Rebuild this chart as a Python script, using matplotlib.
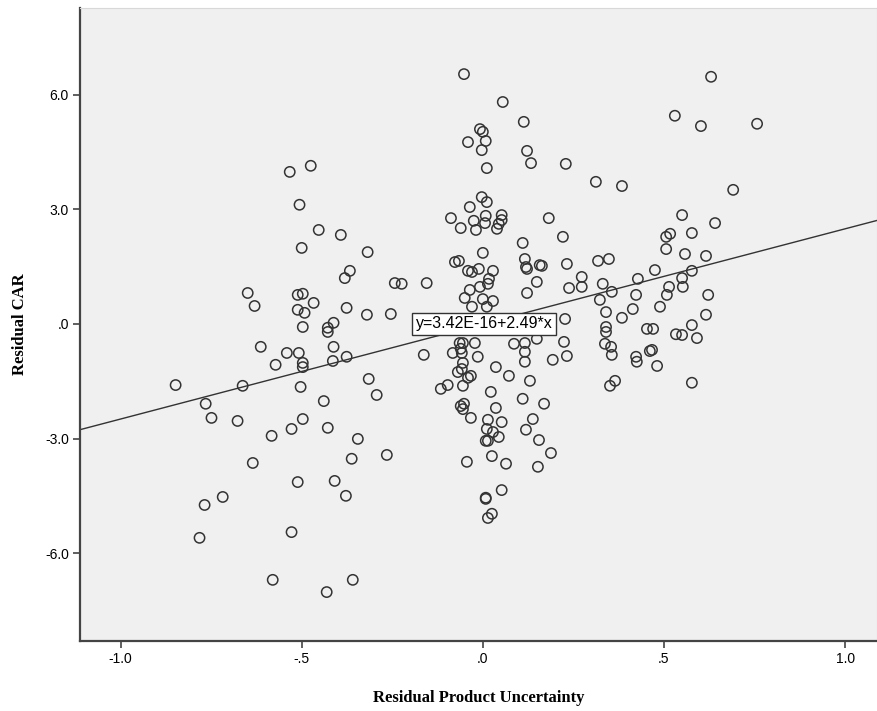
import numpy as np
import matplotlib.pyplot as plt

# residuals (x = product uncertainty, y = CAR)
resid_pu = [
    -0.533, -0.475, -0.506, -0.453, -0.500, -0.649, -0.630, -0.511, -0.497, -0.467,
    -0.511, -0.492, -0.497, -0.428, -0.428, -0.613, -0.541, -0.508, -0.572, -0.497,
    -0.497, -0.848, -0.663, -0.503, -0.765, -0.439, -0.749, -0.677, -0.497, -0.528,
    -0.428, -0.583, -0.635, -0.511, -0.718, -0.768, -0.782, -0.528, -0.580, -0.431,
    -0.392, -0.318, -0.367, -0.381, -0.243, -0.224, -0.155, -0.088, -0.376, -0.320,
    -0.254, -0.412, -0.412, -0.376, -0.414, -0.163, -0.315, -0.293, -0.116, -0.097,
    -0.345, -0.362, -0.265, -0.409, -0.378, -0.359,
    -0.052, 0.055, 0.113, -0.008, 0.000, -0.041, 0.008, -0.003, 0.122, 0.133,
    0.011, -0.003, 0.011, -0.036, -0.061, -0.025, -0.019, 0.008, 0.006, 0.052,
    0.052, 0.044, 0.039, 0.110, 0.000, -0.077, -0.066, -0.041, -0.030, -0.011,
    0.028, 0.116, 0.119, 0.122, 0.157, 0.017, 0.014, -0.008, -0.036, 0.149,
    -0.050, 0.000, 0.028, 0.122, -0.030, 0.011,
    -0.064, -0.055, -0.061, -0.058, -0.022, -0.083, -0.014, 0.086, 0.116, 0.149,
    0.116, 0.116, -0.055, -0.069, -0.058, -0.033, -0.041, 0.036, 0.072, 0.130,
    -0.055, 0.022, 0.110, -0.061, -0.052, -0.055, 0.036, -0.033, 0.014, 0.011,
    0.052, 0.028, 0.044, 0.014, 0.008, 0.138, 0.119, 0.155, 0.025, -0.044,
    0.064, 0.152, 0.052, 0.008, 0.008, 0.025, 0.014,
    0.229, 0.312, 0.384, 0.182, 0.221, 0.163, 0.232, 0.318, 0.348, 0.273,
    0.238, 0.273, 0.331, 0.356, 0.428, 0.475, 0.323, 0.423, 0.340, 0.414,
    0.384, 0.489, 0.227, 0.340, 0.340, 0.453, 0.470,
    0.224, 0.193, 0.232, 0.337, 0.354, 0.356, 0.423, 0.425, 0.461, 0.481,
    0.365, 0.351, 0.169, 0.188,
    0.630, 0.530, 0.602, 0.757, 0.691, 0.550, 0.641, 0.506, 0.517, 0.577,
    0.506, 0.558, 0.616, 0.577, 0.550, 0.514, 0.552, 0.508, 0.622, 0.616,
    0.577, 0.533, 0.550, 0.591, 0.467, 0.577,
]
resid_car = [
    3.98, 4.14, 3.12, 2.46, 1.99, 0.81, 0.47, 0.76, 0.79, 0.55,
    0.37, 0.29, -0.08, -0.10, -0.21, -0.60, -0.76, -0.76, -1.07, -1.02,
    -1.13, -1.60, -1.62, -1.65, -2.09, -2.02, -2.46, -2.54, -2.49, -2.75,
    -2.72, -2.93, -3.64, -4.14, -4.53, -4.74, -5.60, -5.45, -6.70, -7.02,
    2.33, 1.88, 1.39, 1.20, 1.07, 1.05, 1.07, 2.77, 0.42, 0.24,
    0.26, 0.03, -0.60, -0.86, -0.97, -0.81, -1.44, -1.86, -1.70, -1.60,
    -3.01, -3.53, -3.43, -4.11, -4.50, -6.70,
    6.54, 5.81, 5.29, 5.10, 5.03, 4.76, 4.79, 4.55, 4.53, 4.21,
    4.08, 3.32, 3.19, 3.06, 2.51, 2.70, 2.46, 2.83, 2.64, 2.85,
    2.72, 2.62, 2.49, 2.12, 1.86, 1.62, 1.65, 1.39, 1.36, 1.44,
    1.39, 1.70, 1.49, 1.44, 1.54, 1.18, 1.05, 0.97, 0.89, 1.10,
    0.68, 0.65, 0.60, 0.81, 0.45, 0.45,
    -0.50, -0.50, -0.65, -0.76, -0.50, -0.76, -0.86, -0.52, -0.50, -0.39,
    -0.73, -0.99, -1.02, -1.26, -1.18, -1.36, -1.41, -1.13, -1.36, -1.49,
    -1.62, -1.78, -1.96, -2.15, -2.09, -2.23, -2.20, -2.46, -2.51, -2.75,
    -2.57, -2.83, -2.96, -3.06, -3.06, -2.49, -2.77, -3.04, -3.46, -3.61,
    -3.66, -3.74, -4.35, -4.55, -4.58, -4.97, -5.08,
    4.19, 3.72, 3.61, 2.77, 2.28, 1.52, 1.57, 1.65, 1.70, 1.23,
    0.94, 0.97, 1.05, 0.84, 1.18, 1.41, 0.63, 0.76, 0.31, 0.39,
    0.16, 0.45, 0.13, -0.08, -0.21, -0.13, -0.13,
    -0.47, -0.94, -0.84, -0.52, -0.60, -0.81, -0.86, -0.99, -0.71, -1.10,
    -1.49, -1.62, -2.09, -3.38,
    6.47, 5.45, 5.18, 5.24, 3.51, 2.85, 2.64, 2.28, 2.36, 2.38,
    1.96, 1.83, 1.78, 1.39, 1.20, 0.97, 0.97, 0.76, 0.76, 0.24,
    -0.03, -0.27, -0.29, -0.37, -0.68, -1.54,
]

intercept = 3.42e-16
slope = 2.49
fit_label = "y=3.42E-16+2.49*x"

x_ticks = [-1.0, -0.5, 0.0, 0.5, 1.0]
x_ticklabels = ["-1.0", "-.5", ".0", ".5", "1.0"]
y_ticks = [-6.0, -3.0, 0.0, 3.0, 6.0]
y_ticklabels = ["-6.0", "-3.0", ".0", "3.0", "6.0"]

fig = plt.figure(figsize=(8.77, 7.11), dpi=100)
ax = fig.add_axes([0.0912, 0.0985, 0.9088, 0.8902])
ax.set_facecolor("#f0f0f0")

ax.scatter(resid_pu, resid_car, s=55, facecolors="none", edgecolors="#333333",
           linewidths=1.1, zorder=3)

xlim = (-1.112, 1.088)
xs = np.array(xlim)
ax.plot(xs, intercept + slope * xs, color="#333333", lw=1.0, zorder=2)

ax.text(0.003, 0.0, fit_label, ha="center", va="center", fontsize=11.5,
        family="Liberation Sans", zorder=5,
        bbox=dict(boxstyle="square,pad=0.22", fc="white", ec="#333333", lw=1.0))

ax.set_xlim(*xlim)
ax.set_ylim(-8.3, 8.27)
ax.set_xticks(x_ticks)
ax.set_xticklabels(x_ticklabels)
ax.set_yticks(y_ticks)
ax.set_yticklabels(y_ticklabels)
for lab in ax.get_xticklabels() + ax.get_yticklabels():
    lab.set_family("Liberation Sans")
    lab.set_fontsize(10)
ax.tick_params(direction="out", length=5, width=1.2, color="#444444", pad=3)

for side in ["left", "bottom"]:
    ax.spines[side].set_color("#444444")
    ax.spines[side].set_linewidth(1.6)
for side in ["top", "right"]:
    ax.spines[side].set_color("#d8d8d8")
    ax.spines[side].set_linewidth(0.8)

ax.set_xlabel("Residual Product Uncertainty", family="Liberation Serif",
              fontweight="bold", fontsize=12, labelpad=17)
ax.set_ylabel("Residual CAR", family="Liberation Serif",
              fontweight="bold", fontsize=12, labelpad=12)

fig.savefig("out.png", dpi=100)
